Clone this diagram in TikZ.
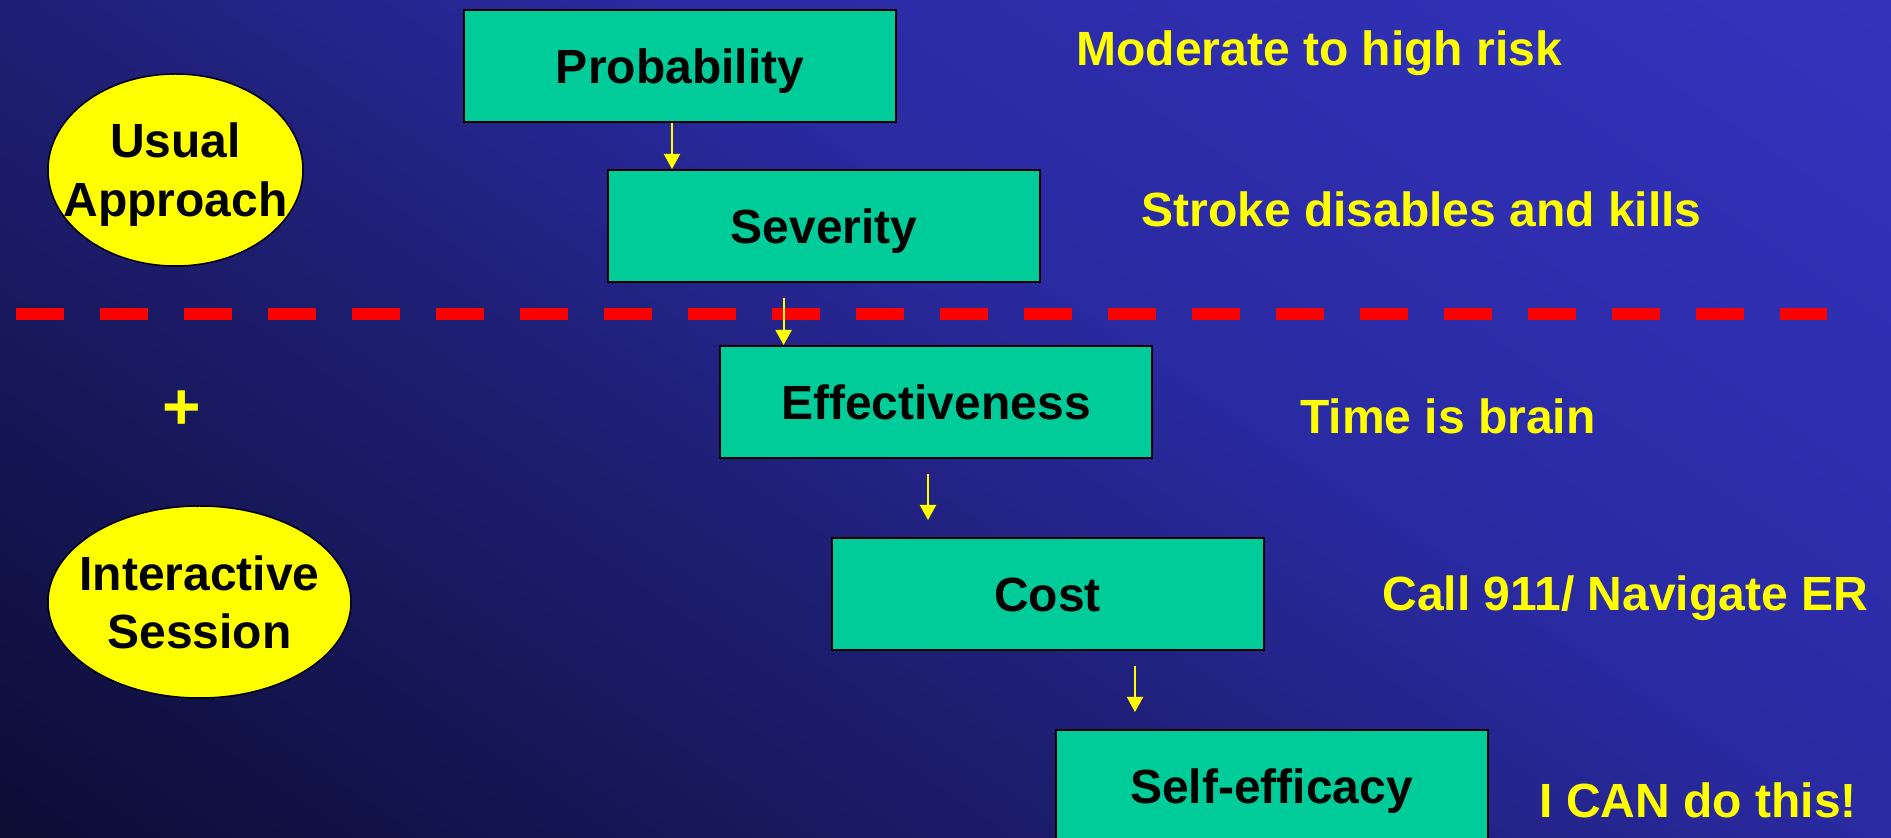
\documentclass[tikz,border=0pt]{standalone}
\usepackage{fontspec}
\setmainfont{Liberation Sans}
\usetikzlibrary{arrows.meta,shapes.geometric,calc}
\definecolor{bgA}{RGB}{12,12,52}
\definecolor{bgB}{RGB}{31,31,118}
\definecolor{bgC}{RGB}{42,42,162}
\definecolor{bgD}{RGB}{51,51,190}
\definecolor{boxgreen}{RGB}{0,204,153}
\definecolor{ppyellow}{RGB}{255,255,0}
\definecolor{ppred}{RGB}{255,0,0}
\pgfdeclarehorizontalshading{bgshade}{100bp}{color(0bp)=(bgA); color(29bp)=(bgA); color(45.7bp)=(bgB); color(54.3bp)=(bgC); color(71bp)=(bgD); color(100bp)=(bgD)}
\begin{document}
\begin{tikzpicture}[x=0.5pt,y=-0.5pt,
  txt/.style={font=\fontsize{24}{29.5}\selectfont\bfseries},
  box/.style={txt, draw=black, line width=1pt, fill=boxgreen, rectangle,
    minimum width=216pt, minimum height=56pt, inner sep=0pt,
    text height=17.5pt, text depth=0pt, text=black},
  oval/.style={draw=black, line width=0.75pt, fill=ppyellow, ellipse, inner sep=0pt},
  ovaltext/.style={txt, anchor=base, inner sep=0pt, text=black},
  note/.style={txt, anchor=base west, inner sep=0pt, text=ppyellow},
  arr/.style={draw=ppyellow, line width=1pt, -{Triangle[width=8pt,length=7.5pt]}},
  sepline/.style={draw=ppred, line width=6pt, dash pattern=on 24pt off 18pt}
]
\useasboundingbox (0,0) rectangle (1891,838);
\begin{scope}
  \clip (0,0) rectangle (1891,838);
  \shade[shading=bgshade, shading angle=56] (-104.5,-631) rectangle (1995.5,1469);
\end{scope}

% separator
\coordinate (sepL) at (16,313.8);
\coordinate (sepR) at (1827,313.8);
\draw[sepline] (sepL) -- (sepR);

% boxes
\node[box] (prob) at (680,66) {Probability};
\node[box] (sev)  at (824,226) {Severity};
\node[box] (eff)  at (936,402) {Effectiveness};
\node[box] (cost) at (1047.5,594) {Cost};
\node[box] (self) at (1271.5,786) {Self-efficacy};

% ovals
\node[oval, minimum width=127.5pt, minimum height=96pt] (ua) at (175.5,170) {};
\node[ovaltext] (ua1) at ($(ua)+(0,-12)$) {Usual};
\node[ovaltext] (ua2) at ($(ua)+(0,47)$) {Approach};
\node[oval, minimum width=151.5pt, minimum height=96pt] (is) at (199.5,602) {};
\node[ovaltext] (is1) at ($(is)+(0,-11)$) {Interactive};
\node[ovaltext] (is2) at ($(is)+(0,47)$) {Session};

\node[font=\fontsize{33}{40}\selectfont\bfseries, text=ppyellow, inner sep=0pt] (plus) at (182,410) {+};

% notes
\node[note] (n1) at (1076,66) {Moderate to high risk};
\node[note] (n2) at (1141,227) {Stroke disables and kills};
\node[note] (n3) at (1300,434) {Time is brain};
\node[note] (n4) at (1382,611) {Call 911/ Navigate ER};
\node[note] (n5) at (1539,818) {I CAN do this!};

% arrows
\coordinate (a1x) at (672,0);
\coordinate (a2x) at (783.6,0);
\coordinate (a3x) at (928,0);
\coordinate (a4x) at (1135,0);
\draw[arr] (prob.south -| a1x) -- (sev.north -| a1x);
\draw[arr] ([yshift=-7.5pt]sev.south -| a2x) -- (eff.north -| a2x);
\draw[arr] ([yshift=-7.5pt]eff.south -| a3x) -- ([yshift=8.5pt]cost.north -| a3x);
\draw[arr] ([yshift=-7.5pt]cost.south -| a4x) -- ([yshift=8.5pt]self.north -| a4x);
\end{tikzpicture}
\end{document}
